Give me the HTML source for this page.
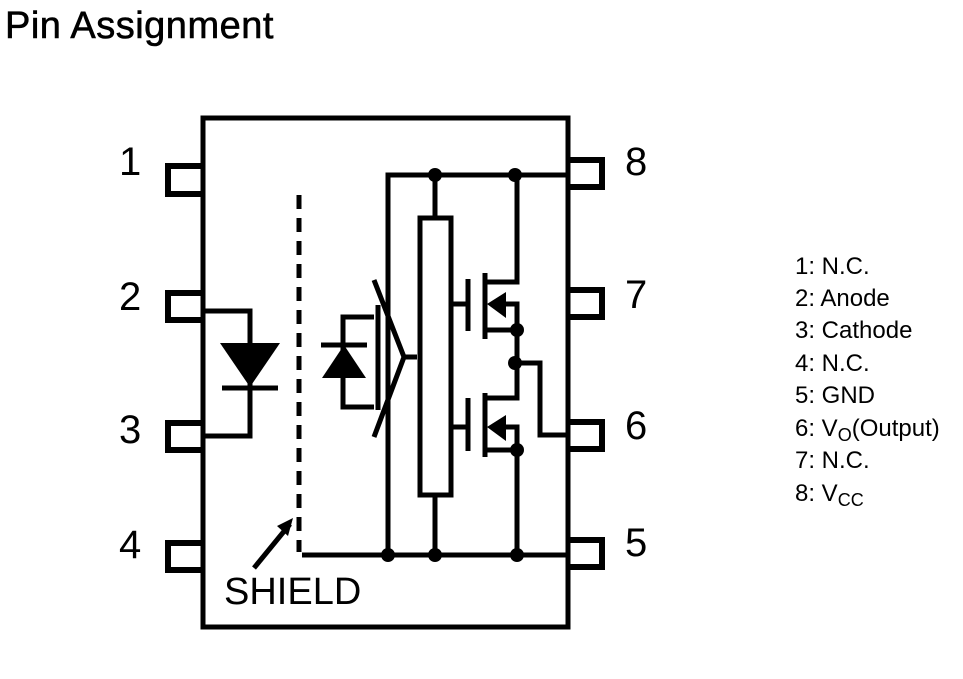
<!DOCTYPE html>
<html><head><meta charset="utf-8"><style>
html,body{margin:0;padding:0;background:#fff;width:963px;height:679px;overflow:hidden}
</style></head><body>
<svg width="963" height="679" viewBox="0 0 963 679" xmlns="http://www.w3.org/2000/svg" font-family="Liberation Sans, Arial, sans-serif">
<text x="5" y="38" font-size="38" letter-spacing="0.5" stroke="#000" stroke-width="0.6">Pin Assignment</text>
<g fill="none" stroke="#000">
<rect x="203" y="118" width="365" height="509" stroke-width="5"/>
<g stroke-width="6">
<path d="M203 166 H168 V194 H203"/>
<path d="M203 293 H168 V320 H203"/>
<path d="M203 423 H168 V450 H203"/>
<path d="M203 543 H168 V570 H203"/>
<path d="M568 160 H602 V187 H568"/>
<path d="M568 290 H602 V317 H568"/>
<path d="M568 422 H602 V449 H568"/>
<path d="M568 540 H602 V567 H568"/>
</g>
<g stroke-width="5">
<path d="M203 311 H250 V436 H203"/>
<path d="M222 388 H278"/>
<path d="M374 317 H343 V407 H374"/>
<path d="M321 345 H367"/>
<path d="M374 280 L404 357 L374 437"/>
<path d="M378 305 V410"/>
<path d="M404 357 H417"/>
<path d="M388 555 V175 H568"/>
<path d="M302 555 H568"/>
<rect x="420" y="218" width="31" height="277"/>
<path d="M435 175 V218 M435 495 V555"/>
<path d="M517 175 V282 H485 M485 273 V339 M468 279 V331 M451 304 H468 M485 330 H517 V304 H500"/>
<path d="M517 330 V398 H485 M485 393 V457 M468 398 V451 M451 427 H468 M485 450 H517 V427 H500 M517 450 V555"/>
<path d="M517 363 H540 V435 H568"/>
<path d="M299 195 V552" stroke-dasharray="14 9"/>
<path d="M254 568 L290 524"/>
</g>
</g>
<g fill="#000">
<polygon points="220,343 280,343 250,387"/>
<polygon points="322,378 366,378 344,345"/>
<polygon points="487,304 506,292 506,318"/>
<polygon points="487,427 506,415 506,441"/>
<polygon points="293,518 277,526 288,536"/>
<circle cx="435" cy="175" r="7"/><circle cx="515" cy="175" r="7"/>
<circle cx="517" cy="330" r="7"/><circle cx="515" cy="363" r="7"/>
<circle cx="517" cy="450" r="7"/>
<circle cx="388" cy="555" r="7"/><circle cx="435" cy="555" r="7"/><circle cx="517" cy="555" r="7"/>
</g>
<g font-size="40">
<text x="119" y="175">1</text>
<text x="119" y="310">2</text>
<text x="119" y="443">3</text>
<text x="119" y="558">4</text>
<text x="625" y="175">8</text>
<text x="625" y="308">7</text>
<text x="625" y="439">6</text>
<text x="625" y="556">5</text>
</g>
<text x="224" y="604" font-size="38">SHIELD</text>
<g font-size="24">
<text x="795" y="274">1: N.C.</text>
<text x="795" y="306">2: Anode</text>
<text x="795" y="338">3: Cathode</text>
<text x="795" y="371">4: N.C.</text>
<text x="795" y="403">5: GND</text>
<text x="795" y="436">6: V<tspan font-size="18" dy="5">O</tspan><tspan dy="-5">(Output)</tspan></text>
<text x="795" y="468">7: N.C.</text>
<text x="795" y="501">8: V<tspan font-size="18" dy="5">CC</tspan></text>
</g>
</svg>
</body></html>
